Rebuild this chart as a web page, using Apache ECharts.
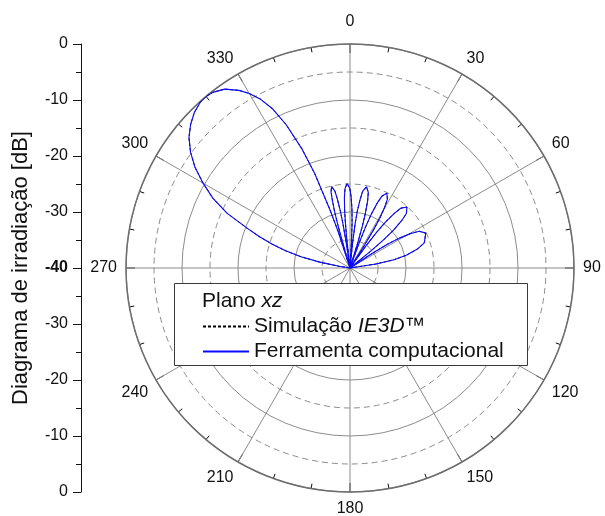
<!DOCTYPE html>
<html>
<head>
<meta charset="utf-8">
<script src="https://cdn.jsdelivr.net/npm/echarts@6/dist/echarts.min.js"></script>
<style>
html,body{margin:0;padding:0;background:#fff;}
#chart{width:605px;height:516px;}
</style>
</head>
<body>
<div id="chart"></div>
<script>
// Angles (degrees, 0 = up, clockwise) of the sampled pattern points
var angles = [270,276,279,281,283,285,287,289,291,294,297,300,303,306,309,312,315,318,320,322,325,328,330,332,334,336,338,339.5,341,342,343,
  343.9,344.3,344.7,345.4,346,347.3,348.9,349.6,350.4,350.9,351.5,352.5,
  353.6,354.2,354.7,355.5,356.4,358,359.9,0.9,1.9,2.6,3.2,4.5,
  5.9,6.6,7.3,8.4,9.4,11.5,13.6,14.7,15.7,16.4,17.1,18.5,
  20,20.8,21.6,22.7,23.9,26.2,28.5,29.7,30.9,31.7,32.4,34,
  35.8,36.7,37.6,39,40.3,43,46,47.5,49,50,51,53,
  54.5,56.7,57.7,58.8,60.4,62.1,65.3,71.3,74.3,77.3,79.3,81.3,85.3,90];
// Simulação IE3D (dB)
var simDb = [-40,-40,-38,-34.5,-31,-28,-25.5,-23,-20.5,-16,-12.5,-9.7,-7,-4.8,-3,-1.7,-0.7,-0.1,0,-0.2,-1,-2.6,-4,-5.8,-8.3,-12,-17,-22,-29,-33,-40,
  -35.2,-31.9,-29.7,-27.5,-26,-25.1,-26,-27.5,-29.7,-31.9,-35.2,-40,
  -35,-31.8,-29.5,-27.3,-25.8,-24.9,-25.8,-27.3,-29.5,-31.8,-35,-40,
  -35.4,-32.1,-29.8,-27.6,-26.1,-25.2,-26.1,-27.6,-29.8,-32.1,-35.4,-40,
  -35.3,-32,-29.7,-27.5,-26,-25.1,-26,-27.5,-29.7,-32,-35.3,-40,
  -35.3,-32,-29.7,-27.5,-26,-25.1,-26,-27.5,-29.7,-32,-35.3,-40,
  -40,-35.3,-32,-29.7,-27.5,-26,-25.1,-26,-27.5,-29.7,-32,-35.3,-40,-40];
// Ferramenta computacional (dB)
var toolDb = [-40,-40,-38,-34.5,-31,-28,-25.5,-23,-20.5,-16,-12.5,-9.7,-7,-4.8,-3,-1.7,-0.7,-0.1,0,-0.2,-1,-2.6,-4,-5.8,-8.3,-12,-17,-22,-29,-33,-40,
  -35.2,-31.9,-29.7,-27.5,-26,-25.1,-26,-27.5,-29.7,-31.9,-35.2,-40,
  -35,-31.8,-29.5,-27.3,-25.8,-24.9,-25.8,-27.3,-29.5,-31.8,-35,-40,
  -35.4,-32.1,-29.8,-27.6,-26.1,-25.2,-26.1,-27.6,-29.8,-32.1,-35.4,-40,
  -35.3,-32,-29.7,-27.5,-26,-25.1,-26,-27.5,-29.7,-32,-35.3,-40,
  -35.3,-32,-29.7,-27.5,-26,-25.1,-26,-27.5,-29.7,-32,-35.3,-40,
  -40,-35.3,-32,-29.7,-27.5,-26,-25.1,-26,-27.5,-29.7,-32,-35.3,-40,-40];
var angleLabels = ['0','30','60','90','120','150','180','210','240','270','300','330'];
var leftLabels = ['0','-10','-20','-30','-40','-30','-20','-10','0']; // top to bottom
var simName = 'Simulação IE3D™';
var toolName = 'Ferramenta computacional';

var FONT = '"Liberation Sans", Arial, sans-serif';
function pairs(db){ return db.map(function(v,i){ return [v, angles[i]]; }); }

var chart = echarts.init(document.getElementById('chart'), null, {renderer:'canvas'});
chart.setOption({
  backgroundColor:'#ffffff',
  animation:false,
  textStyle:{fontFamily:FONT},
  polar:{center:[350,268], radius:224},
  angleAxis:{
    type:'value', min:0, max:360, interval:30, startAngle:90, clockwise:true,
    axisLine:{lineStyle:{color:'#6e6e6e', width:1.5}},
    axisTick:{inside:true, length:9, lineStyle:{color:'#111', width:1}},
    minorTick:{show:true, splitNumber:3, length:5, lineStyle:{color:'#111', width:1}},
    splitLine:{show:true, lineStyle:{color:'#8c8c8c', width:1}},
    axisLabel:{margin:9, color:'#111', fontSize:16, fontFamily:FONT,
      formatter:function(v){ var i=Math.round(v/30); if(i>=12) return ''; return i===0 ? '{t|0}' : angleLabels[i]; },
      rich:{t:{fontSize:16, fontFamily:FONT, color:'#111', padding:[0,0,5,0]}}}
  },
  radiusAxis:{
    type:'value', min:-40, max:0, interval:10,
    axisLine:{show:false}, axisTick:{show:false}, axisLabel:{show:false},
    splitLine:{show:true, lineStyle:{color:'#8c8c8c', width:1}},
    minorTick:{show:false, splitNumber:2},
    minorSplitLine:{show:true, lineStyle:{color:'#8c8c8c', width:1, type:[6,4]}}
  },
  grid:{left:81, top:44, height:448, width:10},
  xAxis:{type:'value', show:false, min:0, max:1},
  yAxis:{
    type:'value', min:0, max:80, interval:10, position:'left',
    axisLine:{show:true, lineStyle:{color:'#111', width:1}},
    axisTick:{show:true, length:8, lineStyle:{color:'#111'}},
    minorTick:{show:true, splitNumber:2, length:5, lineStyle:{color:'#111'}},
    splitLine:{show:false},
    axisLabel:{color:'#111', fontSize:16, fontFamily:FONT, margin:13,
      formatter:function(v){ var s = leftLabels[Math.round((80-v)/10)]; return s==='-40' ? '{b|-40}' : s; },
      rich:{b:{fontWeight:'bold', fontSize:16, fontFamily:FONT, color:'#111'}}},
    name:'Diagrama de irradiação [dB]', nameLocation:'middle', nameGap:49, nameRotate:90,
    nameTextStyle:{fontSize:22, color:'#111', fontFamily:FONT}
  },
  legend:{
    orient:'vertical', left:202, top:316, padding:0, itemGap:4,
    itemWidth:46, itemHeight:14,
    itemStyle:{opacity:0},
    data:[simName, toolName],
    formatter:function(n){ return n===simName ? '{n|Simulação }{i|IE3D™}' : '{n|Ferramenta computacional}'; },
    textStyle:{fontSize:21, color:'#111', fontFamily:FONT,
      rich:{n:{fontSize:21, fontFamily:FONT, color:'#111'}, i:{fontSize:21, fontStyle:'italic', fontFamily:FONT, color:'#111'}}},
    z:6
  },
  graphic:[
    {type:'rect', z:5, shape:{x:174.5, y:283.5, width:353, height:82}, style:{fill:'#fff', stroke:'#3a3a3a', lineWidth:1}},
    {type:'text', z:6, x:202, y:301, style:{text:'{n|Plano }{i|xz}', verticalAlign:'middle',
      rich:{n:{fontSize:21, fontFamily:FONT, fill:'#111'}, i:{fontSize:21, fontStyle:'italic', fontFamily:FONT, fill:'#111'}}}}
  ],
  series:[
    {name:simName, type:'line', coordinateSystem:'polar', data:pairs(simDb), symbol:'none',
     lineStyle:{color:'#000', width:1, type:[3,2]}, itemStyle:{color:'#000'}, z:2},
    {name:toolName, type:'line', coordinateSystem:'polar', data:pairs(toolDb), symbol:'none',
     lineStyle:{color:'#0a0aff', width:1.1}, itemStyle:{color:'#0a0aff'}, z:3}
  ]
});
</script>
</body>
</html>
